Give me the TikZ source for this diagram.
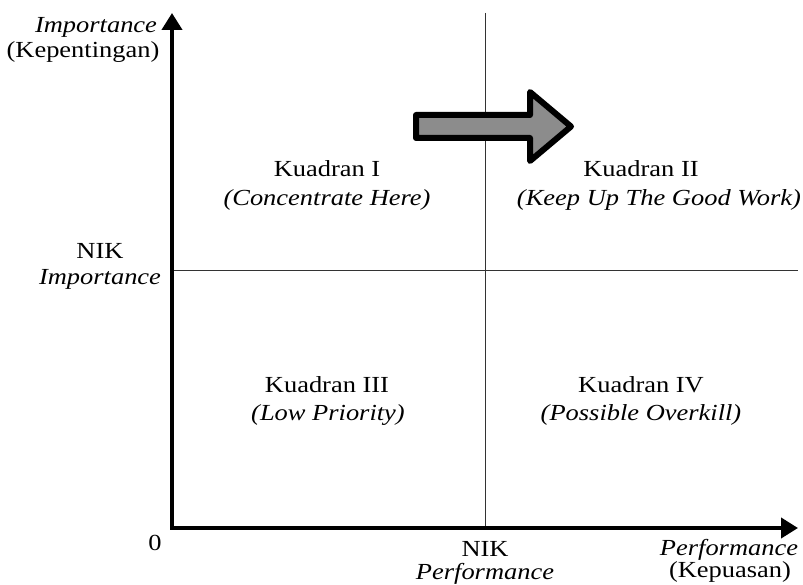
\documentclass[tikz,border=0pt]{standalone}
\usepackage{fontspec}
\setmainfont{Liberation Serif}[FakeStretch=1.15]
\usetikzlibrary{arrows.meta}
\begin{document}
\begin{tikzpicture}[x=1pt,y=-1pt,
  lbl/.style={inner sep=0pt,anchor=base,font=\fontsize{23}{28}\selectfont},
  ilbl/.style={lbl,font=\fontsize{23}{28}\selectfont\itshape},
  axis/.style={line width=4pt,miter limit=10,{Triangle[length=17pt,width=20pt]}-{Triangle[length=17pt,width=20pt]}},
  thin/.style={line width=1pt,draw=black!80},
  bigarrow/.style={line width=6pt,line join=round,fill=black!45,draw=black}]
\useasboundingbox (0,0) rectangle (803,585);
\fill[white] (0,0) rectangle (803,585);
% coordinates
\coordinate (O) at (172,528);
\coordinate (ytop) at (172,13);
\coordinate (xend) at (798,528);
\coordinate (vtop) at (485,13);
\coordinate (vbot) at (485,528);
\coordinate (hl) at (172,271);
\coordinate (hr) at (798,271);
% thin quadrant lines
\draw[thin] (vtop) -- (vbot);
\draw[thin] (hl) -- (hr);
% axes
\draw[axis] (ytop) -- (O) -- (xend);
% big arrow
\draw[bigarrow] (416,115) -- (530,115) -- (530,92) -- (571,126.5) -- (530,161) -- (530,138) -- (416,138) -- cycle;
% axis labels
\node[ilbl] (yl1) at (96,33) {Importance};
\node[lbl] (yl2) at (83,58) {(Kepentingan)};
\node[lbl] (nik1) at (100,259) {NIK};
\node[ilbl] (nik2) at (100,285) {Importance};
\node[lbl] (zero) at (155,550) {0};
\node[lbl] (nik3) at (485,556) {NIK};
\node[ilbl] (nik4) at (485,579) {Performance};
\node[ilbl] (xl1) at (729,555) {Performance};
\node[lbl] (xl2) at (730,577) {(Kepuasan)};
% quadrant labels
\node[lbl] (q1a) at (327,177) {Kuadran I};
\node[ilbl] (q1b) at (327,206) {(Concentrate Here)};
\node[lbl] (q2a) at (641,177) {Kuadran II};
\node[ilbl] (q2b) at (659,206) {(Keep Up The Good Work)};
\node[lbl] (q3a) at (327,392) {Kuadran III};
\node[ilbl] (q3b) at (328,420) {(Low Priority)};
\node[lbl] (q4a) at (641,392) {Kuadran IV};
\node[ilbl] (q4b) at (641,420) {(Possible Overkill)};
\end{tikzpicture}
\end{document}
